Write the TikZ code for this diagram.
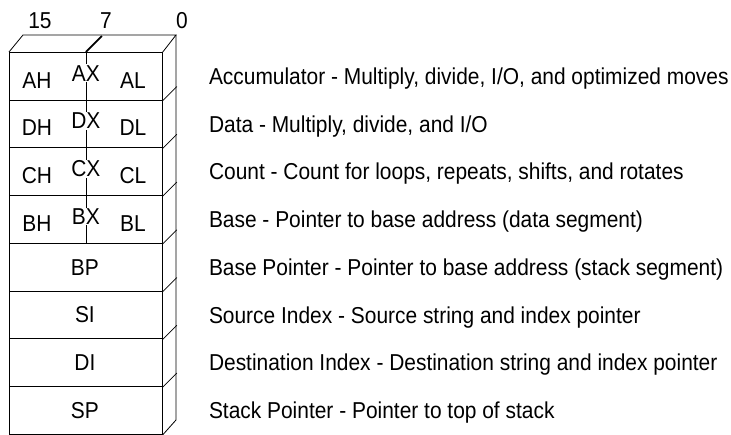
\documentclass[tikz,border=0pt]{standalone}
\usepackage{fontspec}
\setmainfont[FakeStretch=0.91]{Liberation Sans}
\usetikzlibrary{positioning}

\begin{document}
\begin{tikzpicture}[x=1pt,y=-1pt]
   \tikzstyle{every node}=[font=\fontsize{23}{26}\selectfont, inner sep=0pt]
   \tikzstyle{reg}=[draw, line width=0.8pt, minimum width=153pt, minimum height=47.75pt, anchor=north west]
   \tikzstyle{wide}=[fill=white, inner sep=1pt]
   \tikzstyle{desc}=[anchor=base west]
   \useasboundingbox (0,0) rectangle (731,435);

% register rows
\foreach \n [count=\i] in {ax,dx,cx,bx,bp,si,di,sp}
    \node[reg] (\n) at (9,{52+(\i-1)*47.75}) {};

% depth of the block
\draw[line width=0.8pt] (ax.north west) -- ++(14,-17) -- (176,35) -- (ax.north east);
\draw[line width=0.8pt] (176,35) -- (176,420) -- (sp.south east);
\foreach \n in {ax,dx,cx,bx,bp,si,di}
    \draw[line width=0.8pt] (\n.south east) -- ++(14,-14);

% high/low split of the general registers
\draw[line width=0.8pt] (ax.north) -- (bx.south);
\draw[line width=1.8pt] (ax.north) -- ++(16,-16);

% bit numbers
\node (b15) at (40,21) {15};
\node (b7) at (106,21) {7};
\node (b0) at (182,21) {0};

\foreach \n/\h/\w/\l in {ax/AH/AX/AL, dx/DH/DX/DL, cx/CH/CX/CL, bx/BH/BX/BL} {
    \node[wide] (\n-w) at ([yshift=3pt]\n.center) {\w};
    \node (\n-h) at ([xshift=-49pt,yshift=-4pt]\n.center) {\h};
    \node (\n-l) at ([xshift=47pt,yshift=-4pt]\n.center) {\l};
}
\foreach \n/\w in {bp/BP, si/SI, di/DI, sp/SP}
    \node (\n-w) at ([xshift=-1pt]\n.center) {\w};

% what each register is for
\node[desc] (ax-t) at ([xshift=46pt,yshift=-8pt]ax.east) {Accumulator - Multiply, divide, I/O, and optimized moves};
\node[desc] (dx-t) at ([xshift=46pt,yshift=-8pt]dx.east) {Data - Multiply, divide, and I/O};
\node[desc] (cx-t) at ([xshift=46pt,yshift=-8pt]cx.east) {Count - Count for loops, repeats, shifts, and rotates};
\node[desc] (bx-t) at ([xshift=46pt,yshift=-8pt]bx.east) {Base - Pointer to base address (data segment)};
\node[desc] (bp-t) at ([xshift=46pt,yshift=-8pt]bp.east) {Base Pointer - Pointer to base address (stack segment)};
\node[desc] (si-t) at ([xshift=46pt,yshift=-8pt]si.east) {Source Index - Source string and index pointer};
\node[desc] (di-t) at ([xshift=46pt,yshift=-8pt]di.east) {Destination Index - Destination string and index pointer};
\node[desc] (sp-t) at ([xshift=46pt,yshift=-8pt]sp.east) {Stack Pointer - Pointer to top of stack};

\end{tikzpicture}
\end{document}
